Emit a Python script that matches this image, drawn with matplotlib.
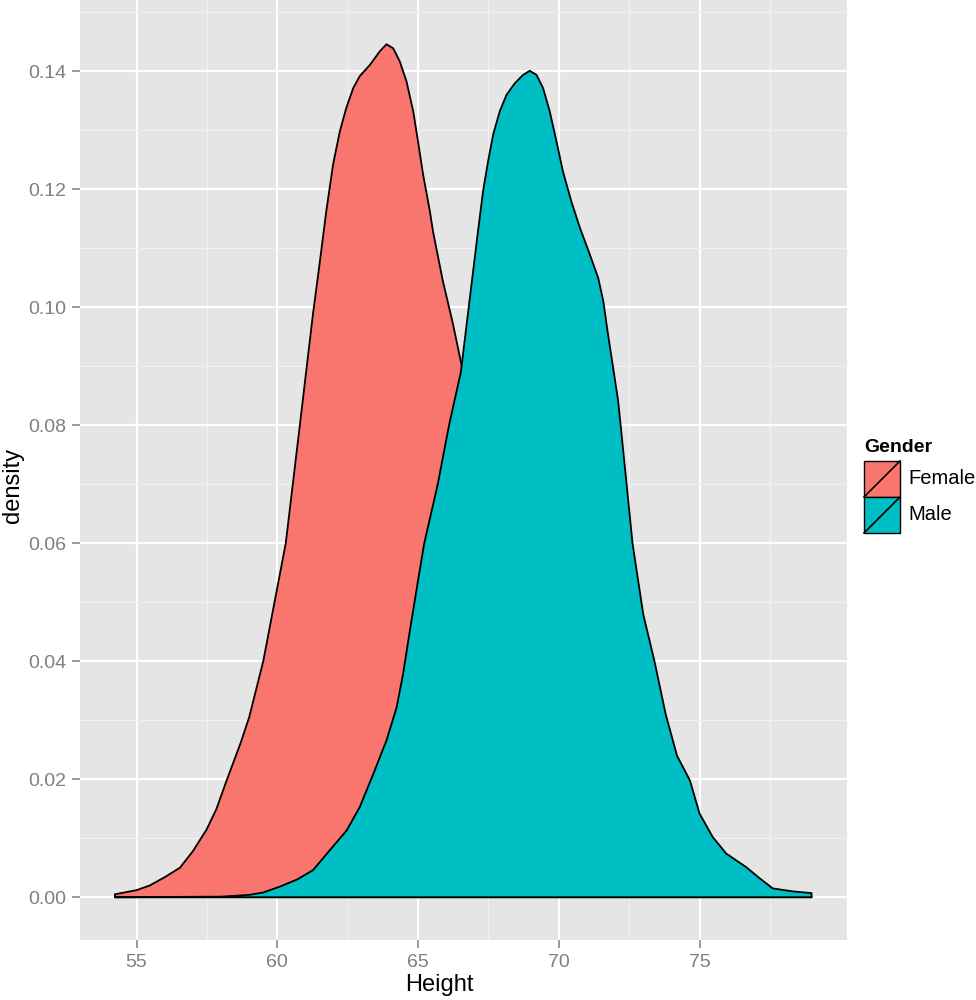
import matplotlib
matplotlib.use("Agg")
import matplotlib.pyplot as plt
import numpy as np
from matplotlib.patches import Rectangle
from matplotlib.lines import Line2D

plt.rcParams['font.family'] = ['Liberation Sans', 'DejaVu Sans']

# density curves
female_h = [54.23, 55.0, 55.47, 56.0, 56.54, 57.0, 57.49, 57.84, 58.2, 58.7, 59.0, 59.5,
            60.0, 60.3, 60.8, 61.27, 61.5, 61.74, 61.98, 62.22, 62.45, 62.7, 62.93,
            63.29, 63.64, 63.88, 64.12, 64.35, 64.59, 64.83, 65.0, 65.18, 65.42, 65.53,
            65.88, 66.24, 66.6, 67.0, 67.5, 68.0, 68.5, 69.0, 69.5, 70.0, 71.0, 72.0,
            73.0, 75.0, 78.98]
female_d = [0.0005, 0.0012, 0.0020, 0.0034, 0.0050, 0.0078, 0.0115, 0.0150, 0.0198,
            0.0262, 0.0305, 0.0400, 0.0525, 0.0600, 0.0800, 0.0990, 0.1073, 0.1163,
            0.1242, 0.1298, 0.1338, 0.1372, 0.1392, 0.1411, 0.1434, 0.1446, 0.1439,
            0.1417, 0.1383, 0.1332, 0.1281, 0.1225, 0.1163, 0.1129, 0.1045, 0.0972,
            0.0890, 0.0770, 0.0630, 0.0490, 0.0370, 0.0270, 0.0190, 0.0130, 0.0060,
            0.0025, 0.0010, 0.0003, 0.0001]

male_h = [54.23, 58.0, 59.0, 59.5, 60.09, 60.7, 61.27, 61.87, 62.46, 62.93, 63.41,
          63.88, 64.24, 64.47, 64.71, 65.0, 65.22, 65.7, 66.1, 66.52, 66.8, 67.13,
          67.31, 67.49, 67.67, 67.9, 68.14, 68.44, 68.73, 68.97, 69.21, 69.44, 69.68,
          69.92, 70.15, 70.45, 70.75, 71.1, 71.4, 71.58, 71.75, 71.93, 72.11, 72.23,
          72.41, 72.62, 73.0, 73.4, 73.8, 74.2, 74.66, 75.0, 75.47, 75.95, 76.66,
          77.14, 77.6, 78.3, 78.98]
male_d = [0.0, 0.0001, 0.0004, 0.0008, 0.0018, 0.0030, 0.0046, 0.0080, 0.0113, 0.0153,
          0.0209, 0.0266, 0.0322, 0.0379, 0.0452, 0.0537, 0.0600, 0.0700, 0.0800,
          0.0890, 0.1000, 0.1129, 0.1197, 0.1248, 0.1293, 0.1332, 0.1360, 0.1380,
          0.1394, 0.1401, 0.1394, 0.1372, 0.1332, 0.1281, 0.1230, 0.1179, 0.1135,
          0.1090, 0.1050, 0.1011, 0.0954, 0.0898, 0.0841, 0.0785, 0.0700, 0.0600,
          0.0480, 0.0400, 0.0310, 0.0240, 0.0198, 0.0142, 0.0102, 0.0074, 0.0051,
          0.0032, 0.0015, 0.0010, 0.0007]

groups = ['Female', 'Male']
colors = ['#F8766D', '#00BFC4']

fig = plt.figure(figsize=(9.76, 10), dpi=100)
ax = fig.add_axes([80 / 976, 60 / 1000, 767 / 976, 940 / 1000])
ax.set_facecolor('#E5E5E5')

for h, d, c in [(female_h, female_d, colors[0]), (male_h, male_d, colors[1])]:
    xs = np.concatenate([h, h[::-1]])
    ys = np.concatenate([d, np.zeros(len(d))])
    ax.fill(xs, ys, facecolor=c, edgecolor='black', linewidth=1.3,
            joinstyle='round', zorder=3)

ax.set_xlim(52.99, 80.24)
ax.set_ylim(-0.00725, 0.1521)
ax.set_xticks([55, 60, 65, 70, 75])
ax.set_xticks([57.5, 62.5, 67.5, 72.5, 77.5], minor=True)
ax.set_yticks(np.arange(0, 0.141, 0.02))
ax.set_yticks(np.arange(0.01, 0.152, 0.02), minor=True)
ax.set_yticklabels(['%.2f' % v for v in np.arange(0, 0.141, 0.02)])

ax.grid(which='major', color='white', linewidth=1.5)
ax.grid(which='minor', color='#F2F2F2', linewidth=0.7)
ax.set_axisbelow(True)
for s in ax.spines.values():
    s.set_visible(False)

ax.tick_params(which='major', length=6, width=1.1, color='#7F7F7F',
               labelcolor='#7F7F7F', labelsize=14, pad=4)
ax.tick_params(which='minor', length=0)

ax.set_xlabel('Height', fontsize=17, va='center')
ax.set_ylabel('density', fontsize=17, va='center')
ax.xaxis.set_label_coords(0.469, -0.0475)
ax.yaxis.set_label_coords(-0.087, 0.484)

# legend
fig.text(864 / 976, 1 - 448 / 1000, 'Gender', fontsize=14, fontweight='bold',
         va='center', ha='left')
for i, (g, c) in enumerate(zip(groups, colors)):
    top = 461 + i * 36
    x0, y0 = 864 / 976, 1 - (top + 36) / 1000
    w, hh = 36 / 976, 36 / 1000
    fig.add_artist(Rectangle((x0, y0), w, hh, facecolor=c, edgecolor='black',
                             linewidth=1.0, transform=fig.transFigure))
    fig.add_artist(Line2D([x0, x0 + w], [y0, y0 + hh], color='black', linewidth=1.2,
                          transform=fig.transFigure))
    fig.text(908 / 976, y0 + hh / 2, g, fontsize=14.5, va='center', ha='left')

fig.savefig('out.png', dpi=100)
